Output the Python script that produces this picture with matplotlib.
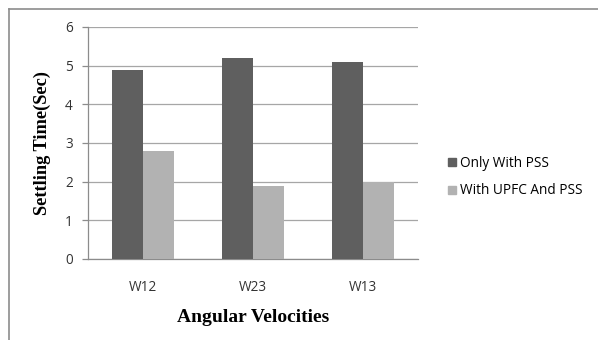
import matplotlib
matplotlib.use("Agg")
import matplotlib.pyplot as plt
from matplotlib.lines import Line2D
import numpy as np

categories = ["W12", "W23", "W13"]
only_pss = [4.9, 5.2, 5.1]
upfc_pss = [2.8, 1.9, 2.0]
series_names = ["Only With PSS", "With UPFC And PSS"]
yticks = [0, 1, 2, 3, 4, 5, 6]

W, H = 598, 340
fig = plt.figure(figsize=(W / 100, H / 100), dpi=100)
fig.patch.set_facecolor("white")

# plot area in pixel coordinates
left, right, top, bottom = 88, 418, 27, 259
ax = fig.add_axes([left / W, 1 - bottom / H, (right - left) / W, (bottom - top) / H])

x = np.arange(len(categories))
bw = 1 / 3.5
dark, light = "#5f5f5f", "#b2b2b2"
ax.bar(x - bw / 2, only_pss, bw, color=dark, label=series_names[0], zorder=3)
ax.bar(x + bw / 2, upfc_pss, bw, color=light, label=series_names[1], zorder=3)

ax.set_xlim(-0.5, len(categories) - 0.5)
ax.set_ylim(0, 6)
ax.set_yticks(yticks)
ax.yaxis.grid(True, color="#a6a6a6", linewidth=0.9, zorder=0)
ax.set_axisbelow(True)
for s in ["top", "right"]:
    ax.spines[s].set_visible(False)
for s in ["left", "bottom"]:
    ax.spines[s].set_color("#8c8c8c")
    ax.spines[s].set_linewidth(0.9)

tick_font = {"family": "Open Sans", "size": 9.8, "color": "#333333"}
ax.set_xticks(x)
ax.set_xticklabels(categories, **tick_font)
ax.set_yticklabels([str(v) for v in yticks], **tick_font)
ax.tick_params(axis="x", length=0, pad=15)
ax.tick_params(axis="y", length=4, width=0.9, color="#8c8c8c", pad=7)

ax.set_xlabel("Angular Velocities", family="Liberation Serif", weight="bold",
              size=14, labelpad=10)
ax.set_ylabel("Settling Time(Sec)", family="Liberation Serif", weight="bold",
              size=13.2, labelpad=10)

handles = [plt.Rectangle((0, 0), 1, 1, color=dark), plt.Rectangle((0, 0), 1, 1, color=light)]
fig.legend(handles, series_names, loc="center left",
           bbox_to_anchor=(436 / W, 1 - 177 / H), frameon=False,
           prop={"family": "Open Sans", "size": 9.8}, handlelength=0.55,
           handleheight=0.55, handletextpad=0.3, labelspacing=0.95)

# outer frame around the chart
fig.add_artist(Line2D([9 / W, 1], [1 - 9 / H, 1 - 9 / H], color="#8c8c8c", lw=1.2))
fig.add_artist(Line2D([9 / W, 9 / W], [0, 1 - 9 / H], color="#8c8c8c", lw=1.2))

fig.savefig("out.png", dpi=100, facecolor="white")
